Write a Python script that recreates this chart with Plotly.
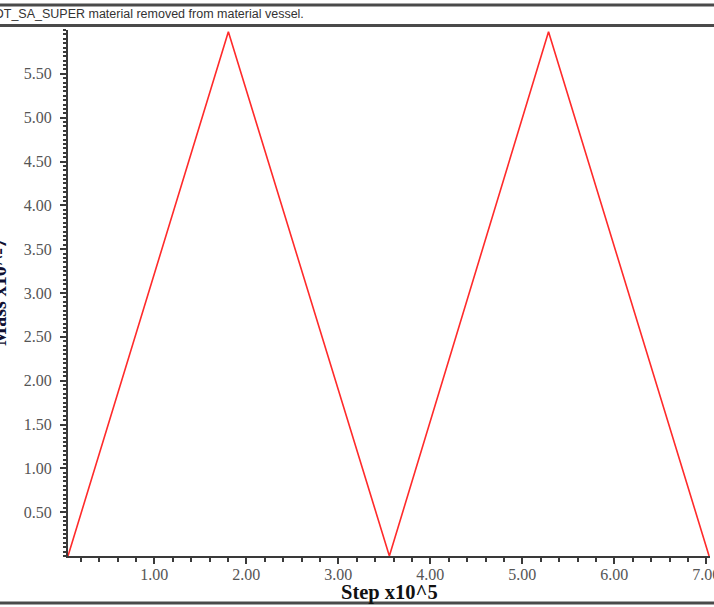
import plotly.graph_objects as go

# ---- data ----
step_x = [0.062, 1.805, 3.555, 5.285, 7.03]   # Step x10^5
value_y = [0.0, 5.98, 0.0, 5.98, 0.0]
x_ticks = [1, 2, 3, 4, 5, 6, 7]
x_tick_labels = ["1.00", "2.00", "3.00", "4.00", "5.00", "6.00", "7.00"]
y_ticks = [0.5, 1.0, 1.5, 2.0, 2.5, 3.0, 3.5, 4.0, 4.5, 5.0, 5.5]
y_tick_labels = ["0.50", "1.00", "1.50", "2.00", "2.50", "3.00", "3.50", "4.00", "4.50", "5.00", "5.50"]
title_text = "DOT_SA_SUPER material removed from material vessel."
x_title = "Step x10^5"
y_title = "Mass x10^-7"

W, H = 714, 607
ML, MR, MT, MB = 68, 4, 30, 50.5
PW = W - ML - MR
PH = H - MT - MB


def px_x(p):
    return (p - ML) / PW


def px_y(p):
    return (H - MB - p) / PH


fig = go.Figure()
fig.add_trace(go.Scatter(x=step_x, y=value_y, mode="lines",
                         line=dict(color="#ff2a2a", width=1.6),
                         showlegend=False, hoverinfo="skip"))

axis_font = dict(family="Liberation Serif", size=16, color="#555555")

fig.update_layout(
    width=W, height=H,
    margin=dict(l=ML, r=MR, t=MT, b=MB, pad=0),
    paper_bgcolor="white", plot_bgcolor="white",
    xaxis=dict(range=[0.062, 7.04], showgrid=False, zeroline=False,
               showline=True, linecolor="#3a3a3a", linewidth=2,
               ticks="outside", ticklen=6, tickwidth=2, tickcolor="#3a3a3a",
               tickvals=x_ticks, ticktext=x_tick_labels, tickfont=axis_font,
               ticklabeloverflow="allow", ticklabelstandoff=-3,
               minor=dict(dtick=0.2, tick0=0, ticks="outside", ticklen=4,
                          tickwidth=2, tickcolor="#3a3a3a", showgrid=False),
               automargin=False),
    yaxis=dict(range=[0, 6.0], showgrid=False, zeroline=False,
               showline=True, linecolor="#3a3a3a", linewidth=2,
               ticks="outside", ticklen=6, tickwidth=2, tickcolor="#3a3a3a",
               tickvals=y_ticks, ticktext=y_tick_labels, tickfont=axis_font,
               ticklabelstandoff=5, ticklabeloverflow="allow",
               minor=dict(dtick=0.05, tick0=0, ticks="outside", ticklen=3,
                          tickwidth=1.5, tickcolor="#3a3a3a", showgrid=False),
               automargin=False),
)

# frame lines of the screenshot
for yy in (5, 25.5, 603.5):
    fig.add_shape(type="line", xref="paper", yref="paper",
                  x0=px_x(-5), x1=px_x(W + 5), y0=px_y(yy), y1=px_y(yy),
                  line=dict(color="#4a4a4a", width=3), layer="above")

# title (clipped at the left edge)
fig.add_annotation(text=title_text, xref="paper", yref="paper",
                   x=px_x(306), y=px_y(14), xanchor="right", yanchor="middle",
                   showarrow=False,
                   font=dict(family="Liberation Sans", size=12.5, color="#333333"))

# x-axis title
fig.add_annotation(text="<b>" + x_title + "</b>", xref="paper", yref="paper",
                   x=0.5, y=px_y(593), xanchor="center", yanchor="middle",
                   showarrow=False,
                   font=dict(family="Liberation Serif", size=20.5, color="#111111"))

# y-axis title (mostly clipped at the left edge)
fig.add_annotation(text="<b>" + y_title + "</b>", xref="paper", yref="paper",
                   x=px_x(-1), y=px_y(292), xanchor="center", yanchor="middle",
                   textangle=-90, showarrow=False,
                   font=dict(family="Liberation Serif", size=20, color="#111133"))

fig.write_html("out.html")
